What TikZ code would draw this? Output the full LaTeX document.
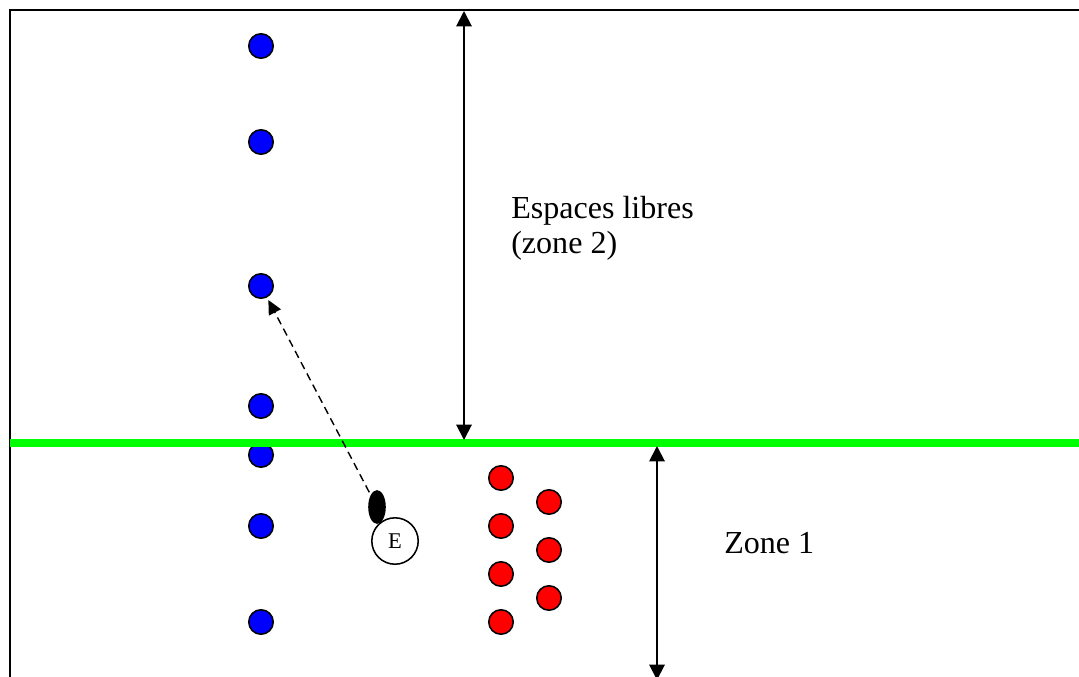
\documentclass[tikz,border=0pt]{standalone}
\usepackage{fontspec}
\setmainfont{Liberation Serif}
\usetikzlibrary{arrows.meta,shapes.geometric,positioning}

\begin{document}
\begin{tikzpicture}[
  x=0.025cm, y=-0.025cm,
  bdot/.style={circle, draw, line width=1.1pt, fill=blue, minimum size=17.4pt, inner sep=0pt},
  rdot/.style={circle, draw, line width=1.1pt, fill=red, minimum size=17.4pt, inner sep=0pt},
  dimarrow/.style={{Triangle[length=11pt,width=11pt]}-{Triangle[length=11pt,width=11pt]}, line width=1.4pt},
  dasharrow/.style={-{Triangle[length=10pt,width=9.5pt]}, dashed, dash pattern=on 5.5pt off 3.5pt, line width=1pt},
  label/.style={inner sep=0pt, align=left, font=\fontsize{22.8pt}{25pt}\selectfont}
]
  \useasboundingbox (0,0) rectangle (1079,677);
  % Frame
  \draw[line width=1.5pt] (10,680) -- (10,10) -- (1080,10);
  % Zone 2: blue dots
  \node[bdot] (b1) at (261,46) {};
  \node[bdot] (b2) at (261,142) {};
  \node[bdot] (b3) at (261,286) {};
  \node[bdot] (b4) at (261,406) {};
  % Zone 1: blue dots
  \node[bdot] (b5) at (261,455) {};
  \node[bdot] (b6) at (261,526) {};
  \node[bdot] (b7) at (261,622) {};
  % Boundary
  \draw[green, line width=5pt] (10,443) -- (1080,443);
  % Red dots
  \node[rdot] (r1) at (501,478) {};
  \node[rdot] (r2) at (501,526) {};
  \node[rdot] (r3) at (501,574) {};
  \node[rdot] (r4) at (501,622) {};
  \node[rdot] (r5) at (549,502) {};
  \node[rdot] (r6) at (549,550) {};
  \node[rdot] (r7) at (549,598) {};
  % Emitter
  \node[circle, draw, fill=white, line width=1.1pt, minimum size=33pt, inner sep=0pt, font=\fontsize{16pt}{18pt}\selectfont] (e) at (395,541) {E};
  \node[ellipse, fill=black, minimum width=12.5pt, minimum height=24pt, inner sep=0pt] (emit) at (377,507) {};
  \draw[dasharrow, shorten <=2pt, shorten >=2pt] (emit) -- (b3);
  % Dimensions
  \coordinate (topz2) at (464,11);
  \coordinate (botz2) at (464,440);
  \coordinate (topz1) at (657,446);
  \coordinate (botz1) at (657,680);
  \draw[dimarrow] (topz2) -- (botz2);
  \draw[dimarrow] (topz1) -- (botz1);
  % Labels
  \node[label, anchor=north west] (z2) at (511,196) {Espaces libres\\(zone 2)};
  \node[label, anchor=base west] (z1) at (724,553) {Zone 1};
\end{tikzpicture}
\end{document}
